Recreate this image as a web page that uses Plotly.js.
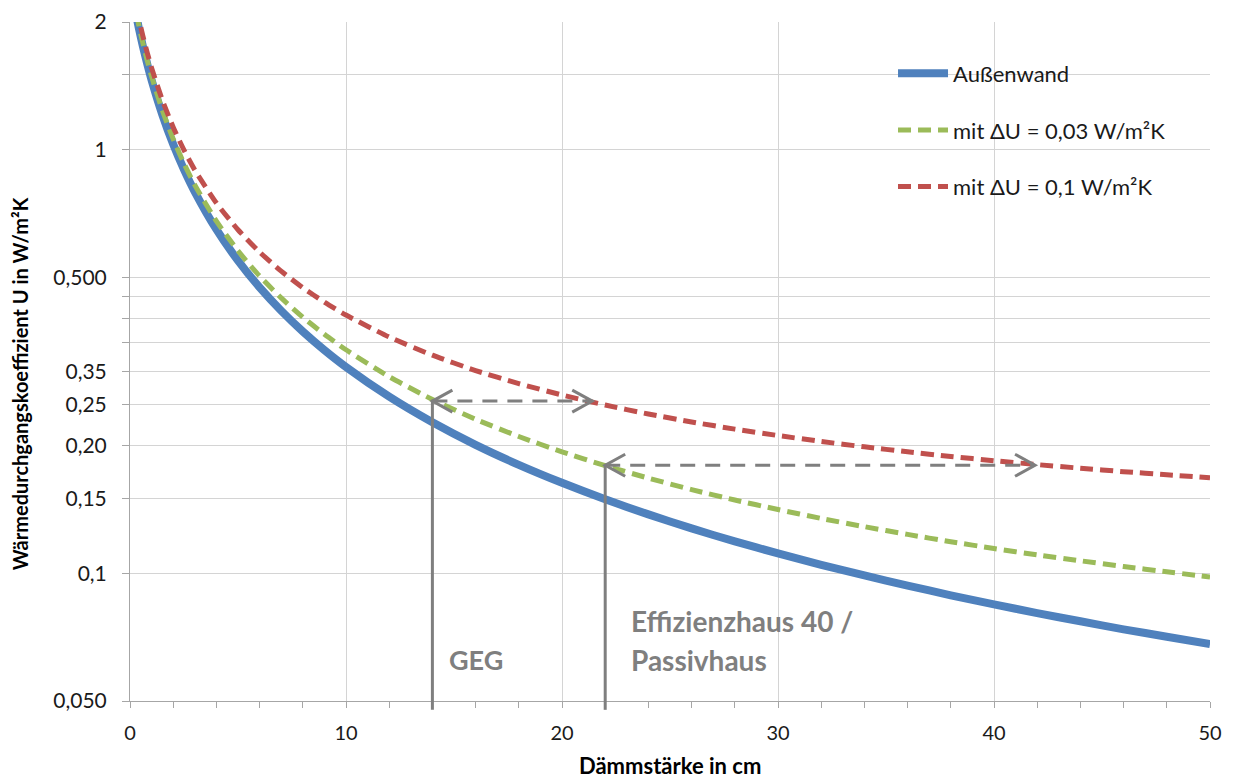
<!DOCTYPE html>
<html>
<head>
<meta charset="utf-8">
<script src="https://cdn.plot.ly/plotly-3.0.1.min.js"></script>
<style>
  html, body { margin: 0; padding: 0; background: #ffffff; }
  #chart { width: 1233px; height: 778px; }
</style>
</head>
<body>
<div id="chart"></div>
<script>
// Dämmstärke in cm
const thickness = [0.3, 0.4, 0.6, 0.8, 1, 1.5, 2, 2.5, 3, 4, 5, 6, 7, 8, 9, 10, 12, 14, 16, 18, 20, 22, 24, 26, 28, 30, 32, 34, 36, 38, 40, 42, 44, 46, 48, 50];
// U-Werte (W/m²K)
const uWall = [2.06, 1.944, 1.750, 1.591, 1.458, 1.207, 1.029, 0.897, 0.795, 0.648, 0.547, 0.473, 0.4167, 0.3723, 0.3365, 0.3070, 0.2612, 0.2273, 0.2011, 0.1804, 0.1636, 0.1496, 0.1378, 0.1277, 0.1190, 0.1115, 0.1048, 0.0989, 0.0936, 0.0888, 0.0845, 0.0806, 0.0771, 0.0738, 0.0709, 0.0681];
const uPlus003 = [2.09, 1.974, 1.780, 1.621, 1.488, 1.237, 1.059, 0.927, 0.825, 0.678, 0.577, 0.503, 0.4467, 0.4023, 0.3665, 0.3370, 0.2912, 0.2573, 0.2311, 0.2104, 0.1936, 0.1796, 0.1678, 0.1577, 0.1490, 0.1415, 0.1348, 0.1289, 0.1236, 0.1188, 0.1145, 0.1106, 0.1071, 0.1038, 0.1009, 0.0981];
const uPlus01 = [2.16, 2.044, 1.850, 1.691, 1.558, 1.307, 1.129, 0.997, 0.895, 0.748, 0.647, 0.573, 0.5167, 0.4723, 0.4365, 0.4070, 0.3612, 0.3273, 0.3011, 0.2804, 0.2636, 0.2496, 0.2378, 0.2277, 0.2190, 0.2115, 0.2048, 0.1989, 0.1936, 0.1888, 0.1845, 0.1806, 0.1771, 0.1738, 0.1709, 0.1681];

const seriesNames = ['Außenwand', 'mit ΔU = 0,03 W/m²K', 'mit ΔU = 0,1 W/m²K'];

const yTickVals = [0.05, 0.1, 0.15, 0.2, 0.25, 0.3, 0.35, 0.4, 0.45, 0.5, 1, 1.5, 2];
const yTickText = ['0,050', '0,1', '0,15', '0,20', '0,25', '0,35', '', '', '', '0,500', '1', '', '2'];
const xTickVals = [0, 10, 20, 30, 40, 50];
const xTickText = ['0', '10', '20', '30', '40', '50'];

// Marker lines (Dämmstärke, U) and arrows
const gegThickness = 14, gegU = 0.257;
const ehThickness = 22, ehU = 0.180;
const arrow1 = {x0: 14, x1: 21.4, u: 0.255};
const arrow2 = {x0: 22, x1: 41.9, u: 0.180};

const yMin = 0.05, yMax = 2;
const FONT = 'Lato, "Open Sans", sans-serif';
const GRAY = '#7f7f7f';

function yPaper(u) {
  return (Math.log10(u) - Math.log10(yMin)) / (Math.log10(yMax) - Math.log10(yMin));
}

const traces = [
  {x: thickness, y: uWall, name: seriesNames[0], mode: 'lines', legendgroup: 'a',
   line: {color: '#4f81bd', width: 8, shape: 'spline', smoothing: 0.6}},
  {x: thickness, y: uPlus003, name: seriesNames[1], mode: 'lines', legendgroup: 'b',
   line: {color: '#9bbb59', width: 5, dash: '13px,7px', shape: 'spline', smoothing: 0.6}},
  {x: thickness, y: uPlus01, name: seriesNames[2], mode: 'lines', legendgroup: 'c',
   line: {color: '#c0504d', width: 5, dash: '13px,7px', shape: 'spline', smoothing: 0.6}}
];

function chevron(x, u, dir) {
  // dir = 1 -> points right, -1 -> points left
  const b = -20 * dir;
  return {type: 'path', xref: 'x', yref: 'y', xsizemode: 'pixel', ysizemode: 'pixel',
          xanchor: x, yanchor: u, path: 'M' + b + ',11 L0,0 L' + b + ',-11',
          line: {color: GRAY, width: 3}, layer: 'above'};
}

const shapes = [
  // white background behind legend
  {type: 'rect', xref: 'paper', yref: 'paper', x0: 0.674, x1: 0.991, y0: 0.72, y1: 0.962,
   fillcolor: '#ffffff', line: {width: 0}, layer: 'between'},
  // white background behind Effizienzhaus text
  {type: 'rect', xref: 'paper', yref: 'paper', x0: 0.449, x1: 0.678, y0: 0.034, y1: 0.149,
   fillcolor: '#ffffff', line: {width: 0}, layer: 'between'},
  // vertical markers
  {type: 'line', xref: 'x', yref: 'paper', x0: gegThickness, x1: gegThickness, y0: -0.013, y1: yPaper(gegU),
   line: {color: GRAY, width: 3}, layer: 'above'},
  {type: 'line', xref: 'x', yref: 'paper', x0: ehThickness, x1: ehThickness, y0: -0.013, y1: yPaper(ehU),
   line: {color: GRAY, width: 3}, layer: 'above'},
  // dashed arrows
  {type: 'line', xref: 'x', yref: 'y', x0: arrow1.x0, x1: arrow1.x1, y0: arrow1.u, y1: arrow1.u,
   line: {color: GRAY, width: 3, dash: '15px,10px'}, layer: 'above'},
  chevron(arrow1.x0, arrow1.u, -1),
  chevron(arrow1.x1, arrow1.u, 1),
  {type: 'line', xref: 'x', yref: 'y', x0: arrow2.x0, x1: arrow2.x1, y0: arrow2.u, y1: arrow2.u,
   line: {color: GRAY, width: 3, dash: '15px,10px'}, layer: 'above'},
  chevron(arrow2.x0, arrow2.u, -1),
  chevron(arrow2.x1, arrow2.u, 1)
];

const annotations = [
  {xref: 'paper', yref: 'paper', x: 0.2935, y: 0.0604, xanchor: 'left', yanchor: 'middle',
   text: '<b>GEG</b>', showarrow: false, font: {family: FONT, size: 27, color: GRAY}},
  {xref: 'paper', yref: 'paper', x: 0.462, y: 0.1178, xanchor: 'left', yanchor: 'middle',
   text: '<b>Effizienzhaus 40 /</b>', showarrow: false, font: {family: FONT, size: 28, color: GRAY}},
  {xref: 'paper', yref: 'paper', x: 0.462, y: 0.0604, xanchor: 'left', yanchor: 'middle',
   text: '<b>Passivhaus</b>', showarrow: false, font: {family: FONT, size: 28, color: GRAY}},
  {xref: 'paper', yref: 'paper', x: 0.5, y: -0.0943, xanchor: 'center', yanchor: 'middle',
   text: '<b>Dämmstärke in cm</b>', showarrow: false, font: {family: FONT, size: 22, color: '#000000'}},
  {xref: 'paper', yref: 'paper', x: -0.1019, y: 0.468, xanchor: 'center', yanchor: 'middle', textangle: -90,
   text: '<b>Wärmedurchgangskoeffizient U in W/m²K</b>', showarrow: false, font: {family: FONT, size: 20, color: '#000000'}}
];

const layout = {
  width: 1233, height: 778,
  margin: {l: 130, r: 23, t: 22, b: 77, pad: 0},
  paper_bgcolor: '#ffffff', plot_bgcolor: '#ffffff',
  font: {family: FONT, size: 21, color: '#1a1a1a'},
  showlegend: true,
  legend: {x: 0.7065, y: 0.955, xanchor: 'left', yanchor: 'top', bgcolor: 'rgba(255,255,255,0)',
           borderwidth: 0, font: {family: FONT, size: 22, color: '#1a1a1a'},
           traceorder: 'grouped', tracegroupgap: 25, itemwidth: 50},
  xaxis: {
    range: [0, 50], tickvals: xTickVals, ticktext: xTickText,
    showgrid: true, gridcolor: '#d4d4d4', gridwidth: 1,
    showline: true, linecolor: '#a6a6a6', linewidth: 1, zeroline: false,
    ticks: 'outside', ticklen: 6, tickcolor: '#a6a6a6', ticklabelstandoff: 8,
    minor: {dtick: 2, tick0: 0, ticks: 'outside', ticklen: 6, tickcolor: '#a6a6a6', showgrid: false},
    tickfont: {family: FONT, size: 20, color: '#1a1a1a'}
  },
  yaxis: {
    type: 'log', range: [Math.log10(yMin), Math.log10(yMax)],
    tickvals: yTickVals, ticktext: yTickText,
    showgrid: true, gridcolor: '#d4d4d4', gridwidth: 1,
    showline: true, linecolor: '#a6a6a6', linewidth: 1, zeroline: false,
    ticks: 'outside', ticklen: 7, tickcolor: '#a6a6a6', ticklabelstandoff: 11,
    tickfont: {family: FONT, size: 21, color: '#1a1a1a'}
  },
  shapes: shapes,
  annotations: annotations
};

Plotly.newPlot('chart', traces, layout, {displayModeBar: false, staticPlot: true});
</script>
</body>
</html>
